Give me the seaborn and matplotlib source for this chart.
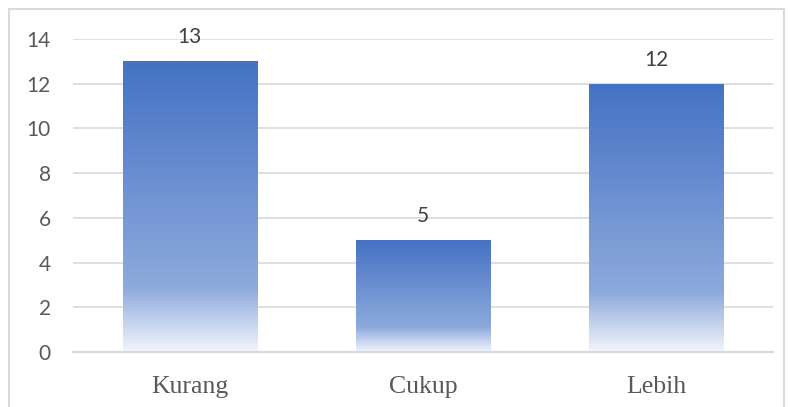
import matplotlib
matplotlib.use("Agg")
import matplotlib.pyplot as plt
import seaborn as sns
import pandas as pd
import numpy as np
from matplotlib.colors import LinearSegmentedColormap
from matplotlib.patches import Rectangle

categories = ["Kurang", "Cukup", "Lebih"]
values = [13, 5, 12]
y_ticks = [0, 2, 4, 6, 8, 10, 12, 14]

df = pd.DataFrame({"kategori": categories, "jumlah": values})

sns.set_style("white")
plt.rcParams["font.family"] = ["Lato", "DejaVu Sans"]

fig = plt.figure(figsize=(7.9, 4.07), dpi=100)
ax = fig.add_axes([73 / 790, 1 - 352 / 407, 700 / 790, 313 / 407])

sns.barplot(data=df, x="kategori", y="jumlah", width=0.575, color="#4472C4", ax=ax)

# gradient fill: blue at top, fading to white near the base
grad = LinearSegmentedColormap.from_list(
    "g", [(0.0, "#f2f5fc"), (0.22, "#8eaadc"), (1.0, "#4472C4")])
gimg = np.linspace(0, 1, 256).reshape(-1, 1)
for p in ax.patches:
    x0, y0 = p.get_x(), p.get_y()
    w, h = p.get_width(), p.get_height()
    p.set_facecolor("none")
    p.set_edgecolor("none")
    im = ax.imshow(gimg, cmap=grad, origin="lower", aspect="auto",
                   extent=[x0, x0 + w, y0, y0 + h], zorder=2)
    im.set_clip_path(p)
    ax.text(x0 + w / 2, y0 + h + 0.62, f"{h:g}", ha="center", va="bottom",
            fontsize=15, color="#404040", zorder=3)

ax.set_xlim(-0.5, 2.5)
ax.set_ylim(0, 14)
ax.set_yticks(y_ticks)
ax.yaxis.grid(True, color="#d9d9d9", linewidth=1.2)
ax.set_axisbelow(True)
for s in ["top", "right", "left"]:
    ax.spines[s].set_visible(False)
ax.spines["bottom"].set_color("#d9d9d9")
ax.spines["bottom"].set_linewidth(1.5)
ax.tick_params(axis="y", length=0, pad=16, labelsize=15, labelcolor="#595959")
ax.tick_params(axis="x", length=0, pad=17)
for lbl in ax.get_xticklabels():
    lbl.set_family(["Liberation Serif"])
    lbl.set_fontsize(18.5)
    lbl.set_color("#595959")
ax.set_xlabel("")
ax.set_ylabel("")

fig.patches.append(Rectangle((9 / 790, -0.1), 775 / 790, 1.1 - 9 / 407,
                             transform=fig.transFigure, fill=False,
                             edgecolor="#d9d9d9", linewidth=1.5))

fig.savefig("out.png", dpi=100)
